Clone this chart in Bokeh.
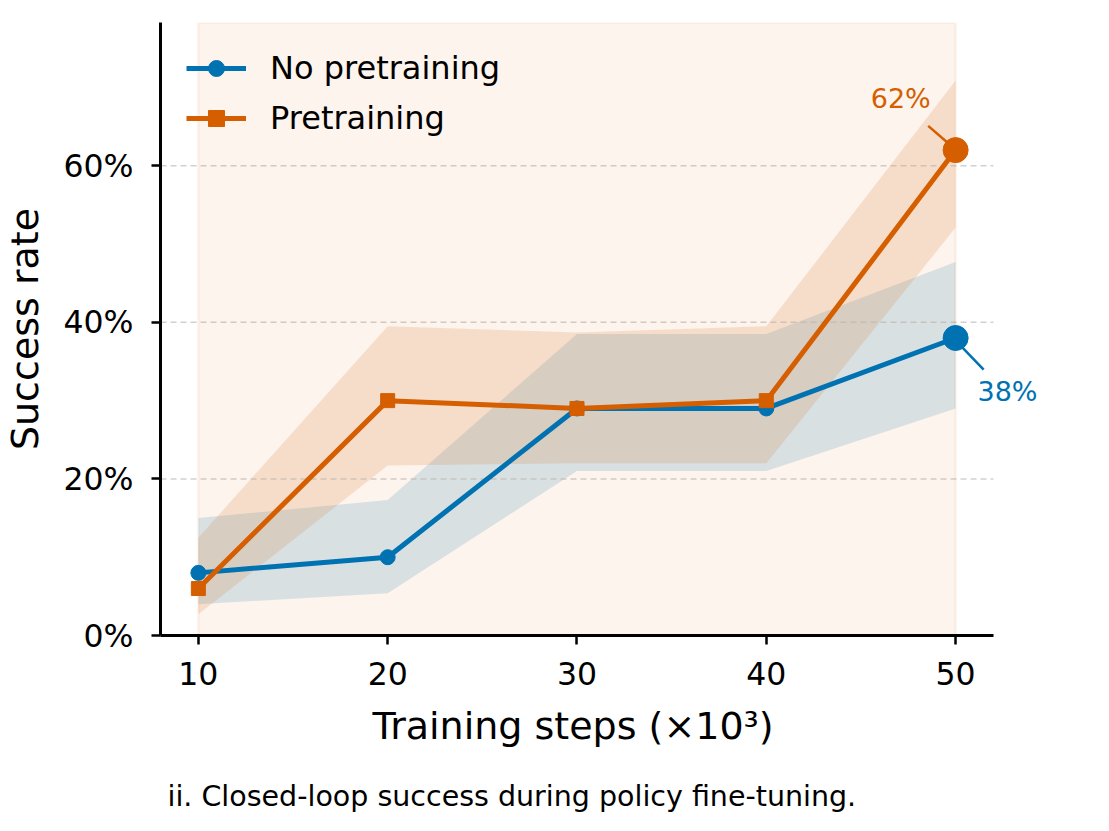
from bokeh.plotting import figure
from bokeh.models import (Range1d, FixedTicker, NumeralTickFormatter, Legend, LegendItem,
                          BoxAnnotation, Label, Title)
from bokeh.embed import file_html
from bokeh.resources import INLINE

# ---- data ----
steps = [10, 20, 30, 40, 50]
no_pre = [0.08, 0.10, 0.29, 0.29, 0.38]
no_pre_lo = [0.040, 0.054, 0.210, 0.210, 0.290]
no_pre_hi = [0.150, 0.173, 0.385, 0.385, 0.477]
pre = [0.06, 0.30, 0.29, 0.30, 0.62]
pre_lo = [0.027, 0.217, 0.220, 0.220, 0.521]
pre_hi = [0.125, 0.395, 0.387, 0.395, 0.709]
x_ticks = [10, 20, 30, 40, 50]
y_ticks = [0.0, 0.2, 0.4, 0.6]
series_names = ["No pretraining", "Pretraining"]
end_labels = ["38%", "62%"]
x_label = "Training steps (×10³)"
y_label = "Success rate"
caption = "ii. Closed-loop success during policy fine-tuning."

BLUE = "#0072B2"
ORANGE = "#D55E00"
FONT = "DejaVu Sans"
X_AXIS_BOUNDS = (8, 52)

p = figure(width=1089, height=830, output_backend="svg", toolbar_location=None,
           x_range=Range1d(8, 55.17), y_range=Range1d(0, 0.783),
           min_border_left=160, min_border_right=36, min_border_top=22, min_border_bottom=195)
p.outline_line_color = None
p.background_fill_color = "white"

# background span
span = BoxAnnotation(left=steps[0], right=steps[-1], fill_color=ORANGE, fill_alpha=0.07,
                     line_color=ORANGE, line_alpha=0.06, line_width=3, level="underlay")
p.add_layout(span)

# bands
p.varea(x=steps, y1=no_pre_lo, y2=no_pre_hi, fill_color=BLUE, fill_alpha=0.15, level="underlay")
p.varea(x=steps, y1=pre_lo, y2=pre_hi, fill_color=ORANGE, fill_alpha=0.15, level="underlay")

# horizontal dashed grid (limited to the axis extent)
grid_y = y_ticks[1:]
p.segment(x0=[X_AXIS_BOUNDS[0]] * len(grid_y), y0=grid_y,
          x1=[X_AXIS_BOUNDS[1]] * len(grid_y), y1=grid_y,
          line_color="#bdbdbd", line_alpha=0.7, line_width=1.5, line_dash="6 4",
          level="underlay")

# lines and markers
l1 = p.line(steps, no_pre, line_color=BLUE, line_width=5)
m1 = p.scatter(steps[:-1], no_pre[:-1], marker="circle", size=15, fill_color=BLUE, line_color=BLUE)
l2 = p.line(steps, pre, line_color=ORANGE, line_width=5)
m2 = p.scatter(steps[:-1], pre[:-1], marker="square", size=14, fill_color=ORANGE, line_color=ORANGE)
p.scatter(steps[-1:], no_pre[-1:], marker="circle", size=25, fill_color=BLUE, line_color=BLUE)
p.scatter(steps[-1:], pre[-1:], marker="circle", size=25, fill_color=ORANGE, line_color=ORANGE)

# end annotations
p.segment(x0=[50.35], y0=[0.368], x1=[51.48], y1=[0.3396], line_color=BLUE, line_width=2.5)
p.segment(x0=[48.55], y0=[0.651], x1=[49.55], y1=[0.630], line_color=ORANGE, line_width=2.5)
p.add_layout(Label(x=52.74, y=0.312, text=end_labels[0], text_color=BLUE, text_font=FONT,
                   text_font_size="27px", text_align="center", text_baseline="middle"))
p.add_layout(Label(x=47.1, y=0.686, text=end_labels[1], text_color=ORANGE, text_font=FONT,
                   text_font_size="27px", text_align="center", text_baseline="middle"))

# axes
for ax in (p.xaxis[0], p.yaxis[0]):
    ax.axis_line_width = 3
    ax.axis_line_color = "black"
    ax.major_tick_line_width = 2.5
    ax.major_tick_line_color = "black"
    ax.major_tick_out = 9
    ax.major_tick_in = 0
    ax.minor_tick_line_color = None
    ax.major_label_text_font = FONT
    ax.major_label_text_font_size = "31.5px"
    ax.major_label_text_color = "black"
    ax.axis_label_text_font = FONT
    ax.axis_label_text_font_size = "38px"
    ax.axis_label_text_font_style = "normal"
    ax.axis_label_text_color = "black"

p.xaxis.bounds = X_AXIS_BOUNDS
p.xaxis.ticker = FixedTicker(ticks=x_ticks)
p.yaxis.ticker = FixedTicker(ticks=y_ticks)
p.yaxis.formatter = NumeralTickFormatter(format="0%")
p.yaxis.axis_label = y_label
p.xaxis.major_label_standoff = 17
p.yaxis.major_label_standoff = 18
p.yaxis.axis_label_standoff = 13

p.xgrid.grid_line_color = None
p.ygrid.grid_line_color = None

# x-axis title (centred under the axis extent) and caption
p.add_layout(Title(text=x_label, align="left", offset=212, standoff=28, text_font=FONT,
                   text_font_size="38px", text_font_style="normal", text_color="black"), "below")
p.add_layout(Title(text=caption, align="left", offset=7, standoff=33, text_font=FONT,
                   text_font_size="28.5px", text_font_style="normal", text_color="black"), "below")

legend = Legend(items=[LegendItem(label=series_names[0], renderers=[l1, m1]),
                       LegendItem(label=series_names[1], renderers=[l2, m2])],
                location="top_left", margin=26, padding=0, spacing=10,
                glyph_width=60, glyph_height=40, label_height=40, label_standoff=24,
                label_text_font=FONT, label_text_font_size="32px", label_text_color="black",
                border_line_alpha=0, background_fill_alpha=0)
p.add_layout(legend)

open("out.html", "w").write(file_html(p, INLINE))
